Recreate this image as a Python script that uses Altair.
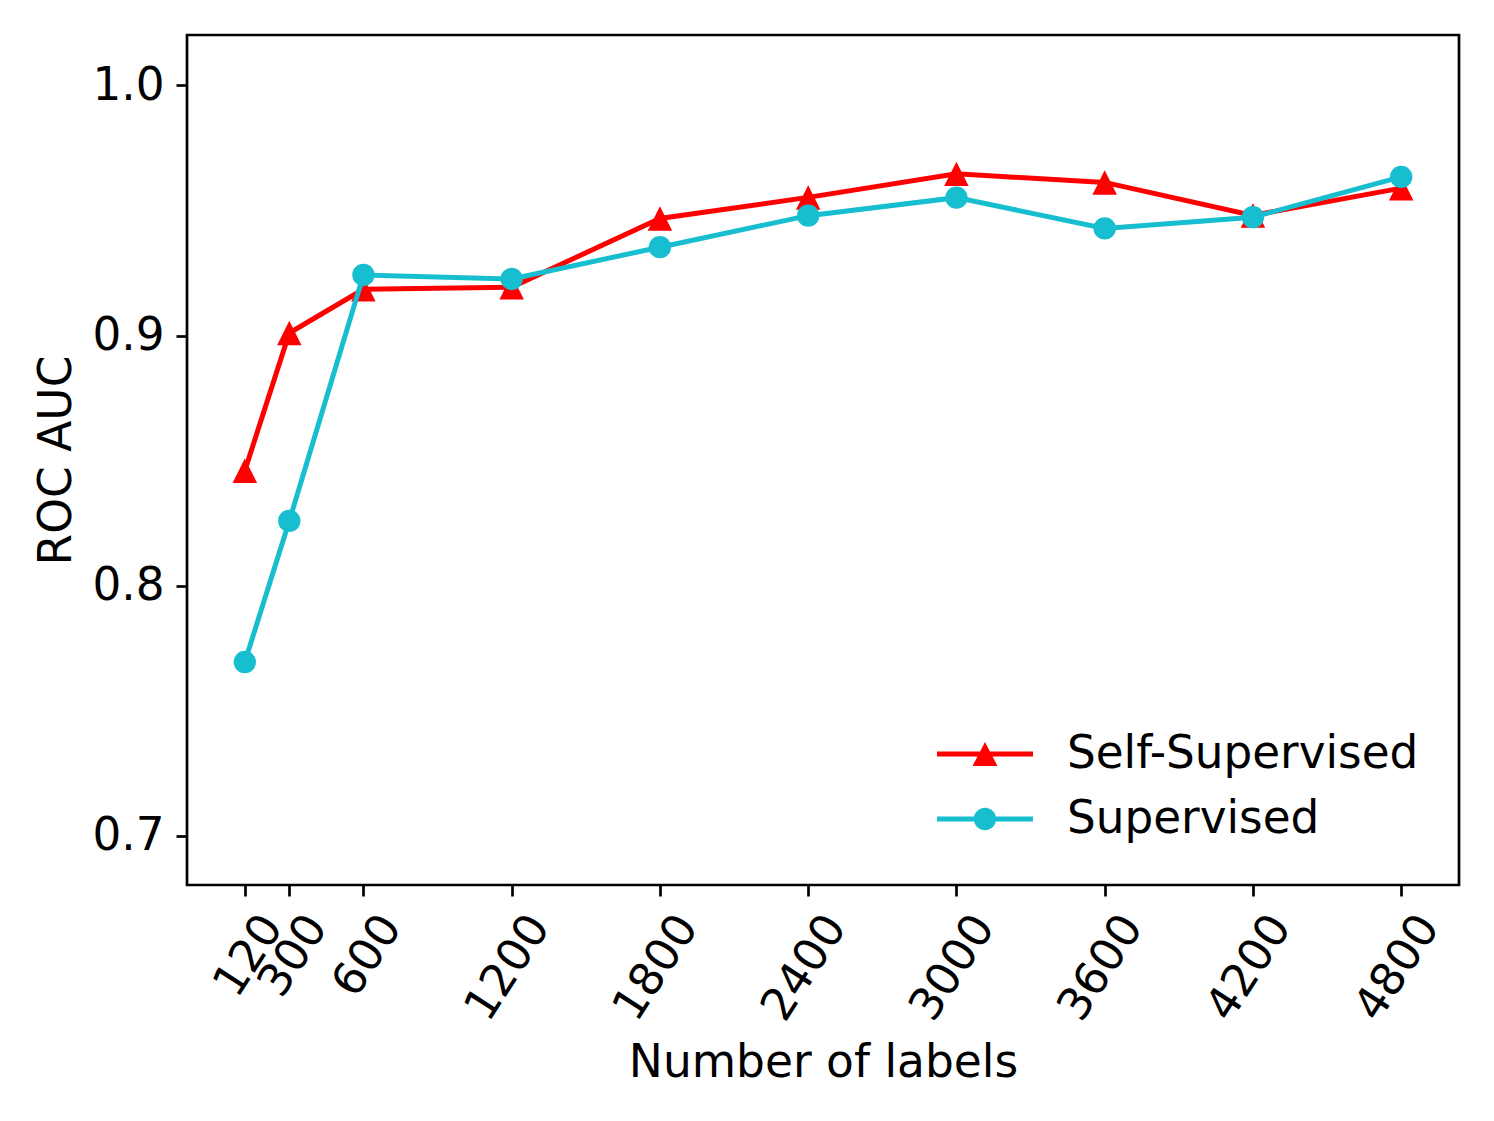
import altair as alt
import pandas as pd

# ---- data ----
n_labels = [120, 300, 600, 1200, 1800, 2400, 3000, 3600, 4200, 4800]
self_supervised = [0.846, 0.901, 0.9185, 0.9193, 0.9468, 0.9552, 0.9646, 0.9612, 0.948, 0.9589]
supervised = [0.7695, 0.8259, 0.9242, 0.9226, 0.9353, 0.9479, 0.9551, 0.9428, 0.9473, 0.9634]
series_names = ["Self-Supervised", "Supervised"]
series_colors = ["#ff0000", "#17becf"]
y_ticks = [0.7, 0.8, 0.9, 1.0]

df = pd.DataFrame({
    "n": n_labels * 2,
    "auc": self_supervised + supervised,
    "series": [series_names[0]] * len(n_labels) + [series_names[1]] * len(n_labels),
})

FONT = "DejaVu Sans"
TICK_FS = 45.3
TITLE_FS = 45.5

# marker shapes (matplotlib-like)
TRI = "M0,-1L1,1L-1,1Z"
# legend symbols: line + marker combined in one path (path extends past the unit box)
LEG_TRI = ("M-2,-0.104L2,-0.104L2,0.104L-2,0.104Z"
           "M0,-0.5L0.52,0.5L-0.52,0.5Z")
LEG_CIRC = ("M-2,-0.104L2,-0.104L2,0.104L-2,0.104Z"
            "M-0.467,0A0.467,0.467,0,1,1,0.467,0A0.467,0.467,0,1,1,-0.467,0Z")

x_enc = alt.X(
    "n:Q",
    scale=alt.Scale(domain=[-114, 5034], nice=False, zero=False),
    axis=alt.Axis(
        values=n_labels, format="d", title="Number of labels",
        labelAngle=303, labelAlign="right", labelBaseline="middle",
        labelPadding=23, labelOffset=27, labelOverlap=False, labelFlush=False,
        labelBound=False,
        tickSize=11, tickWidth=2.7, tickColor="black", domain=False, grid=False,
        labelFontSize=TICK_FS, labelFont=FONT, labelColor="black",
        titleFontSize=TITLE_FS, titleFont=FONT, titleFontWeight="normal", titleColor="black",
        titleX=636, titleY=191, titleBaseline="alphabetic", titleAlign="center",
    ),
)
y_enc = alt.Y(
    "auc:Q",
    scale=alt.Scale(domain=[0.6804, 1.0201], nice=False, zero=False),
    axis=alt.Axis(
        values=y_ticks, format=".1f", title="ROC AUC",
        labelPadding=12, labelOverlap=False, labelFlush=False,
        tickSize=11, tickWidth=2.7, tickColor="black", domain=False, grid=False,
        labelFontSize=TICK_FS, labelFont=FONT, labelColor="black", labelBaseline="middle",
        titleFontSize=TITLE_FS, titleFont=FONT, titleFontWeight="normal", titleColor="black",
        titleAngle=270, titleX=-117, titleY=425, titleBaseline="alphabetic",
        titleAlign="center",
    ),
)

color_scale = alt.Scale(domain=series_names, range=series_colors)

base = alt.Chart(df)

layers = []
for name, col, shp in zip(series_names, series_colors, [TRI, "circle"]):
    sub = base.transform_filter(alt.datum.series == name)
    layers.append(
        sub.mark_line(strokeWidth=5, color=col).encode(x=x_enc, y=y_enc)
    )
    layers.append(
        sub.mark_point(filled=True, opacity=1, shape=shp, color=col,
                       size=600 if shp == TRI else 500, strokeWidth=0)
        .encode(x=x_enc, y=y_enc)
    )

legend_spec = alt.Legend(
    title=None, orient="none", legendX=774, legendY=695,
    symbolSize=2304, symbolStrokeWidth=0, symbolOpacity=1,
    labelFontSize=TICK_FS, labelFont=FONT, labelColor="black", labelLimit=0,
    labelOffset=58, rowPadding=17, padding=0,
)

# legend-only layer: no rows drawn, entries come from the explicit scale domains
legend_layer = base.transform_filter("datum.n < 0").mark_point(
    filled=True, opacity=1
).encode(
    x=x_enc,
    y=y_enc,
    color=alt.Color("series:N", scale=color_scale, legend=legend_spec),
    shape=alt.Shape(
        "series:N",
        scale=alt.Scale(domain=series_names, range=[LEG_TRI, LEG_CIRC]),
        legend=legend_spec,
    ),
)
layers.append(legend_layer)

chart = alt.layer(*layers).properties(
    width=1272,
    height=850,
    autosize=alt.AutoSizeParams(type="none"),
    padding={"left": 179, "top": 27, "right": 27, "bottom": 228},
    background="white",
).configure_view(stroke="black", strokeWidth=2.7)

chart.save("out.html", embed_options={"renderer": "svg", "actions": False})
